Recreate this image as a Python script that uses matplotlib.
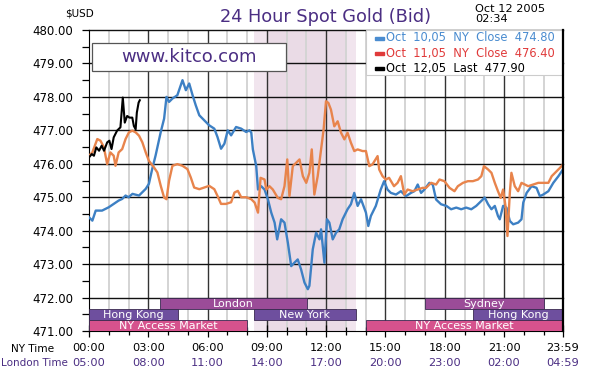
import matplotlib
matplotlib.use("Agg")
import matplotlib.pyplot as plt
from matplotlib.patches import Rectangle

W, H = 593, 377
PURPLE = "#4b2e83"
BLUE, ORANGE = "#3d80c4", "#e8844c"

# Oct 10 (hours NY time, price)
blue_t = [0.0, 0.17, 0.34, 0.66, 1.0, 1.25, 1.5, 1.68, 1.85, 2.0, 2.2, 2.53, 2.7, 2.87,
          3.03, 3.2, 3.37, 3.63, 3.8, 3.92, 4.05, 4.22, 4.47, 4.73, 4.9, 5.07, 5.24, 5.4,
          5.58, 5.83, 6.08, 6.34, 6.5, 6.68, 6.85, 7.02, 7.19, 7.44, 7.7, 7.95, 8.12, 8.21,
          8.29, 8.46, 8.55, 8.71, 8.88, 9.05, 9.22, 9.39, 9.52, 9.72, 9.89, 10.06, 10.23,
          10.39, 10.56, 10.73, 10.9, 11.07, 11.15, 11.32, 11.49, 11.66, 11.74, 11.91, 12.04,
          12.16, 12.33, 12.5, 12.66, 12.83, 13.08, 13.25, 13.42, 13.59, 13.76, 14.01, 14.13,
          14.26, 14.51, 14.76, 14.93, 15.1, 15.27, 15.53, 15.78, 16.03, 16.29, 16.46, 16.63,
          16.8, 16.97, 17.22, 17.39, 17.56, 17.81, 18.08, 18.32, 18.58, 18.83, 19.08, 19.34,
          19.59, 19.85, 20.02, 20.19, 20.36, 20.53, 20.69, 20.78, 20.95, 21.12, 21.29, 21.46,
          21.71, 21.88, 21.97, 22.14, 22.39, 22.64, 22.81, 22.98, 23.24, 23.49, 23.75, 23.98]
blue_p = [474.40, 474.30, 474.60, 474.60, 474.70, 474.80, 474.90, 474.95, 475.05, 475.00,
          475.10, 475.05, 475.15, 475.25, 475.40, 475.85, 476.25, 476.95, 477.35, 478.00,
          477.85, 477.95, 478.05, 478.50, 478.20, 478.40, 478.05, 477.75, 477.45, 477.30,
          477.15, 477.05, 476.80, 476.45, 476.60, 477.00, 476.85, 477.10, 477.05, 476.95,
          477.00, 476.93, 476.43, 475.93, 475.23, 475.33, 475.23, 474.94, 474.54, 474.24,
          473.74, 474.34, 474.24, 473.64, 472.94, 473.04, 473.14, 472.84, 472.45, 472.25,
          472.35, 473.44, 473.94, 473.74, 474.04, 473.04, 474.34, 474.24, 473.74, 473.94,
          474.04, 474.34, 474.64, 474.79, 475.13, 474.74, 474.94, 474.54, 474.14, 474.44,
          474.74, 475.23, 475.48, 475.23, 475.13, 475.08, 475.18, 475.03, 475.13, 475.18,
          475.38, 475.13, 475.23, 475.43, 475.38, 474.93, 474.79, 474.74, 474.64, 474.69,
          474.64, 474.69, 474.64, 474.74, 474.89, 474.99, 474.79, 474.64, 474.74, 474.44,
          474.34, 474.74, 474.69, 474.29, 474.19, 474.24, 474.34, 474.84, 475.13, 475.33,
          475.28, 475.03, 475.08, 475.18, 475.43, 475.63, 475.83]

# Oct 11
orange_t = [0.0, 0.17, 0.42, 0.58, 0.75, 0.92, 1.08, 1.25, 1.34, 1.5, 1.68, 1.85, 2.02,
            2.19, 2.36, 2.53, 2.7, 2.87, 3.03, 3.29, 3.46, 3.63, 3.8, 3.92, 4.05, 4.22, 4.47,
            4.73, 4.98, 5.15, 5.32, 5.58, 5.83, 6.08, 6.34, 6.5, 6.68, 6.93, 7.19, 7.36, 7.53,
            7.7, 7.95, 8.21, 8.38, 8.55, 8.68, 8.88, 8.97, 9.13, 9.3, 9.55, 9.72, 9.89, 10.03,
            10.14, 10.31, 10.48, 10.65, 10.82, 10.99, 11.15, 11.27, 11.4, 11.57, 11.74, 11.87,
            11.99, 12.11, 12.24, 12.41, 12.58, 12.75, 12.92, 13.08, 13.25, 13.42, 13.59, 13.84,
            14.01, 14.18, 14.34, 14.6, 14.68, 14.85, 15.02, 15.18, 15.43, 15.61, 15.78, 15.95,
            16.12, 16.37, 16.63, 16.88, 17.05, 17.31, 17.56, 17.73, 17.98, 18.24, 18.49, 18.66,
            18.92, 19.17, 19.42, 19.68, 19.85, 19.98, 20.19, 20.36, 20.53, 20.69, 20.83, 20.95,
            21.07, 21.17, 21.29, 21.37, 21.54, 21.71, 21.88, 22.05, 22.22, 22.47, 22.73, 22.98,
            23.24, 23.41, 23.66, 23.83, 23.98]
orange_p = [476.24, 476.34, 476.74, 476.69, 476.50, 475.99, 476.34, 476.24, 475.94, 476.34,
            476.44, 476.74, 476.94, 476.99, 476.94, 476.84, 476.64, 476.34, 476.09, 475.89,
            475.74, 475.34, 474.99, 474.94, 475.49, 475.94, 475.99, 475.94, 475.84, 475.59,
            475.29, 475.24, 475.29, 475.34, 475.24, 475.04, 474.80, 474.80, 474.85, 475.14,
            475.19, 475.00, 475.00, 474.94, 474.84, 474.54, 475.58, 475.53, 475.23, 475.33,
            475.23, 474.98, 474.94, 475.33, 476.13, 475.03, 475.93, 476.03, 476.13, 475.63,
            475.43, 475.73, 476.43, 475.08, 475.63, 476.43, 477.03, 477.87, 477.82, 477.62,
            477.12, 477.27, 476.93, 476.73, 476.93, 476.63, 476.38, 476.43, 476.38, 476.38,
            475.93, 475.98, 476.23, 475.83, 475.63, 475.53, 475.58, 475.33, 475.43, 475.63,
            475.08, 475.23, 475.18, 475.23, 475.28, 475.28, 475.43, 475.38, 475.53, 475.48,
            475.28, 475.18, 475.33, 475.43, 475.48, 475.48, 475.53, 475.63, 475.93, 475.83,
            475.73, 475.43, 475.18, 474.98, 475.23, 474.74, 473.84, 475.13, 475.73, 475.33,
            475.18, 475.43, 475.38, 475.33, 475.38, 475.43, 475.43, 475.43, 475.63, 475.78,
            475.88, 475.98]

# Oct 12 (up to 02:34)
black_t = [0.0, 0.14, 0.25, 0.37, 0.51, 0.64, 0.76, 0.92, 1.03, 1.14, 1.25, 1.42, 1.59,
           1.71, 1.81, 1.93, 2.05, 2.19, 2.27, 2.36, 2.42, 2.51, 2.57]
black_p = [476.19, 476.29, 476.24, 476.49, 476.39, 476.54, 476.39, 476.64, 476.69, 476.44,
           476.79, 476.99, 477.09, 477.98, 477.23, 477.43, 477.38, 477.38, 477.13, 477.03,
           477.53, 477.83, 477.90]

legend_rows = ["Oct  10,05  NY  Close  474.80",
               "Oct  11,05  NY  Close  476.40",
               "Oct  12,05  Last  477.90"]

ny_ticks = ["00:00", "03:00", "06:00", "09:00", "12:00", "15:00", "18:00", "21:00", "23:59"]
london_ticks = ["05:00", "08:00", "11:00", "14:00", "17:00", "20:00", "23:00", "02:00", "04:59"]
tick_hours = [0, 3, 6, 9, 12, 15, 18, 21, 23.98]

# market sessions: name, start hour, end hour, row (0 = top)
session_names = ["London", "Sydney", "Hong Kong", "New York", "Hong Kong",
                 "NY Access Market", "NY Access Market"]
session_start = [3.6, 17.0, 0.0, 8.33, 19.45, 0.0, 14.0]
session_end = [11.05, 23.0, 4.5, 13.5, 23.98, 8.0, 23.98]
session_row = [0, 0, 1, 1, 1, 2, 2]
ROW_COLORS = ["#9b4c98", "#6e4f9e", "#d6528d"]


def ftext(x, y, s, **kw):
    fig.text(x / W, 1 - y / H, s, **kw)


def axpos(x, y):
    # figure pixel -> axes fraction
    return (x - 89) / 474, (331 - y) / 301


fig = plt.figure(figsize=(W / 100, H / 100), dpi=100)
fig.patch.set_facecolor("white")
ax = fig.add_axes([89 / W, 1 - 331 / H, 474 / W, 301 / H])
ax.set_xlim(0, 23.98)
ax.set_ylim(471, 480)

# trading-hours shading
ax.axvspan(8.33, 13.5, color="#f1e5ee", zorder=0, lw=0)
ax.axvspan(9.0, 13.0, color="#eadbe6", zorder=0, lw=0)

for h in range(1, 24):
    if h % 3:
        ax.axvline(h, color="#d4d4d4", lw=1.4, zorder=1)
for h in (3, 6, 9, 12, 15, 18, 21):
    ax.axvline(h, color="#333333", lw=1.0, zorder=1.2)
for v in range(472, 481):
    ax.axhline(v, color="#111111", lw=1.0, zorder=1.2, clip_on=False)

ax.plot(blue_t, blue_p, color=BLUE, lw=1.7, zorder=3)
ax.plot(orange_t, orange_p, color=ORANGE, lw=1.7, zorder=3.1)
ax.plot(black_t, black_p, color="black", lw=1.5, zorder=3.2)

# session bars
row_h = 1 / 3
for name, s, e, r in zip(session_names, session_start, session_end, session_row):
    y0 = 472 - (r + 1) * row_h
    ax.add_patch(Rectangle((s, y0), e - s, row_h, facecolor=ROW_COLORS[r],
                           edgecolor="#3a2a50", lw=0.6, zorder=4))
    ax.text((s + e) / 2, y0 + row_h / 2 - 0.02, name, color="white", fontsize=8,
            ha="center", va="center", zorder=5)

# white boxes: logo and legend
x0, y0 = axpos(92, 71)
ax.add_patch(Rectangle((x0, y0), 194 / 474, 28 / 301, transform=ax.transAxes,
                       facecolor="white", edgecolor="#555555", lw=0.9, zorder=6))
ax.text(*axpos(189, 57), "www.kitco.com", transform=ax.transAxes,
        color=PURPLE, fontsize=13, ha="center", va="center", zorder=7)

x0, y0 = axpos(366, 75)
ax.add_patch(Rectangle((x0, y0), (563 - 366) / 474, 45 / 301, transform=ax.transAxes,
                       facecolor="white", edgecolor="#cccccc", lw=0.8, zorder=6,
                       clip_on=False))
for i, (txt, col) in enumerate(zip(legend_rows, ["#4a8cd0", "#e03a3a", "black"])):
    yy = 38 + i * 15.3
    ax.add_patch(Rectangle(axpos(375, yy + 1.5), 9 / 474, 3 / 301,
                           transform=ax.transAxes, color=col, zorder=7))
    ax.text(*axpos(386, yy), txt, transform=ax.transAxes,
            color=col, fontsize=8.3, ha="left", va="center", zorder=7)

# axes styling
ax.spines["top"].set_visible(False)
for side in ("left", "bottom", "right"):
    ax.spines[side].set_color("black")
ax.spines["right"].set_linewidth(1.6)
ax.spines["right"].set_zorder(8)

ax.set_yticks(range(471, 481))
ax.set_yticklabels([f"{v:.2f}" for v in range(471, 481)], fontsize=8.5)
ax.set_yticks([v + 0.5 for v in range(471, 480)], minor=True)
ax.tick_params(axis="y", which="both", direction="out", length=5, width=0.9, pad=6.5)

ax.set_xticks(tick_hours)
ax.set_xticklabels(ny_ticks, fontsize=8.2)
ax.set_xticks([h for h in range(1, 24) if h % 3], minor=True)
ax.tick_params(axis="x", which="major", direction="inout", length=8, width=0.9, pad=4.3)
ax.tick_params(axis="x", which="minor", direction="inout", length=6, width=0.9)
for h, lab in zip(tick_hours, london_ticks):
    ax.text(h, -(363 - 331) / 301, lab, transform=ax.get_xaxis_transform(),
            color=PURPLE, fontsize=8.2, ha="center", va="center")

# header texts
ftext(326, 17, "24 Hour Spot Gold (Bid)", color=PURPLE, fontsize=12.8,
      ha="center", va="center")
ftext(80, 13, "$USD", color="black", fontsize=7.5, ha="center", va="center")
ftext(475, 14, "Oct 12 2005\n02:34", color="black", fontsize=8.2, ha="left",
      va="center", linespacing=0.95)
ftext(33, 349, "NY Time", color="black", fontsize=7.6, ha="center", va="center")
ftext(1, 363, "London Time", color=PURPLE, fontsize=7.5, ha="left", va="center")

fig.savefig("out.png", dpi=100, facecolor="white")
